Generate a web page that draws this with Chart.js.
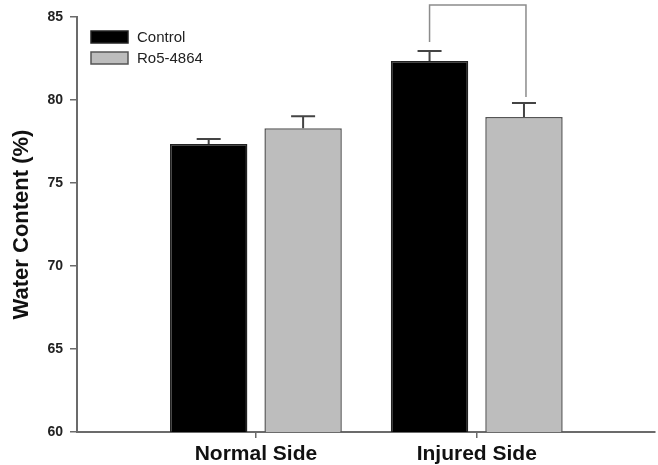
<!DOCTYPE html>
<html>
<head>
<meta charset="utf-8">
<script src="https://cdn.jsdelivr.net/npm/chart.js@4/dist/chart.umd.min.js"></script>
<style>
  html, body { margin: 0; padding: 0; background: #fff; }
  #wrap { width: 658px; height: 465px; }
</style>
</head>
<body>
<div id="wrap"><canvas id="barChart"></canvas></div>
<script>
const categories = ['Normal Side', 'Injured Side'];
const catPos = [1, 2];
const seriesNames = ['Control', 'Ro5-4864'];
const controlValues = [77.35, 82.35];
const controlErrors = [0.3, 0.6];
const roValues = [78.3, 78.98];
const roErrors = [0.72, 0.84];
const yTicks = [60, 65, 70, 75, 80, 85];

const FONT = "'Liberation Sans', Arial, sans-serif";
const AXIS = '#6b6b6b';

// error bars (upward only, with cap)
const errorBars = {
    id: 'errorBars',
    afterDatasetsDraw(chart) {
        const ctx = chart.ctx;
        const y = chart.scales.y;
        chart.data.datasets.forEach((ds, di) => {
            chart.getDatasetMeta(di).data.forEach((bar, i) => {
                const top = y.getPixelForValue(ds.data[i].y + ds.errors[i]);
                ctx.save();
                ctx.strokeStyle = '#444';
                ctx.lineWidth = 2;
                ctx.beginPath();
                ctx.moveTo(bar.x, bar.y);
                ctx.lineTo(bar.x, top);
                ctx.moveTo(bar.x - 12, top);
                ctx.lineTo(bar.x + 12, top);
                ctx.stroke();
                ctx.restore();
            });
        });
    }
};

// significance bracket between the two injured side bars
const bracket = {
    id: 'bracket',
    afterDraw(chart) {
        const ctx = chart.ctx;
        const y = chart.scales.y;
        const a = chart.getDatasetMeta(0).data[1];
        const b = chart.getDatasetMeta(1).data[1];
        const ds = chart.data.datasets;
        const ya = y.getPixelForValue(ds[0].data[1].y + ds[0].errors[1]) - 9;
        const yb = y.getPixelForValue(ds[1].data[1].y + ds[1].errors[1]) - 6;
        const yt = 5;
        ctx.save();
        ctx.strokeStyle = '#8c8c8c';
        ctx.lineWidth = 1.5;
        ctx.beginPath();
        ctx.moveTo(a.x, ya);
        ctx.lineTo(a.x, yt);
        ctx.lineTo(b.x + 2, yt);
        ctx.lineTo(b.x + 2, yb);
        ctx.stroke();
        ctx.restore();
    }
};

// legend in the upper left of the plot
const boxLegend = {
    id: 'boxLegend',
    afterDraw(chart) {
        const ctx = chart.ctx;
        chart.data.datasets.forEach((ds, i) => {
            const top = 31 + i * 21;
            ctx.save();
            ctx.fillStyle = ds.backgroundColor;
            ctx.fillRect(91, top, 37, 12);
            ctx.strokeStyle = ds.borderColor;
            ctx.lineWidth = 1.5;
            ctx.strokeRect(91, top, 37, 12);
            ctx.fillStyle = '#222';
            ctx.font = '15px ' + FONT;
            ctx.textBaseline = 'middle';
            ctx.fillText(ds.label, 137, top + 6.5);
            ctx.restore();
        });
    }
};

new Chart(document.getElementById('barChart'), {
    type: 'bar',
    data: {
        datasets: [{
            label: seriesNames[0],
            data: catPos.map((x, i) => ({ x: x, y: controlValues[i] })),
            errors: controlErrors,
            backgroundColor: '#000000',
            borderColor: '#222222',
            borderWidth: 1.5
        }, {
            label: seriesNames[1],
            data: catPos.map((x, i) => ({ x: x, y: roValues[i] })),
            errors: roErrors,
            backgroundColor: '#bdbdbd',
            borderColor: '#555555',
            borderWidth: 1.5
        }]
    },
    options: {
        responsive: true,
        maintainAspectRatio: false,
        animation: false,
        barPercentage: 0.82,
        categoryPercentage: 0.855,
        layout: { padding: { left: 0, right: 3, top: 17, bottom: 0 } },
        plugins: { legend: { display: false }, tooltip: { enabled: false } },
        scales: {
            x: {
                type: 'linear',
                min: 0.19,
                max: 2.807,
                offset: false,
                afterBuildTicks: (axis) => { axis.ticks = catPos.map(v => ({ value: v })); },
                afterFit: (axis) => { axis.height = 33; },
                grid: { offset: false, drawOnChartArea: false, drawTicks: true, tickLength: 6, color: AXIS, lineWidth: 1.5 },
                border: { display: true, color: AXIS, width: 2 },
                ticks: {
                    autoSkip: false,
                    maxRotation: 0,
                    padding: 4,
                    color: '#111',
                    font: { family: FONT, size: 21, weight: 'bold' },
                    callback: (value, index) => categories[index]
                }
            },
            y: {
                min: yTicks[0],
                max: yTicks[yTicks.length - 1],
                afterBuildTicks: (axis) => { axis.ticks = yTicks.map(v => ({ value: v })); },
                afterFit: (axis) => { axis.width = 77; },
                grid: { drawOnChartArea: false, drawTicks: true, tickLength: 7, color: AXIS, lineWidth: 1.5 },
                border: { display: true, color: AXIS, width: 2 },
                ticks: {
                    padding: 7,
                    color: '#222',
                    font: { family: FONT, size: 14, weight: 'bold' }
                },
                title: {
                    display: true,
                    text: 'Water Content (%)',
                    color: '#111',
                    padding: { top: 9, bottom: 0 },
                    font: { family: FONT, size: 22, weight: 'bold' }
                }
            }
        }
    },
    plugins: [errorBars, bracket, boxLegend]
});
</script>
</body>
</html>
